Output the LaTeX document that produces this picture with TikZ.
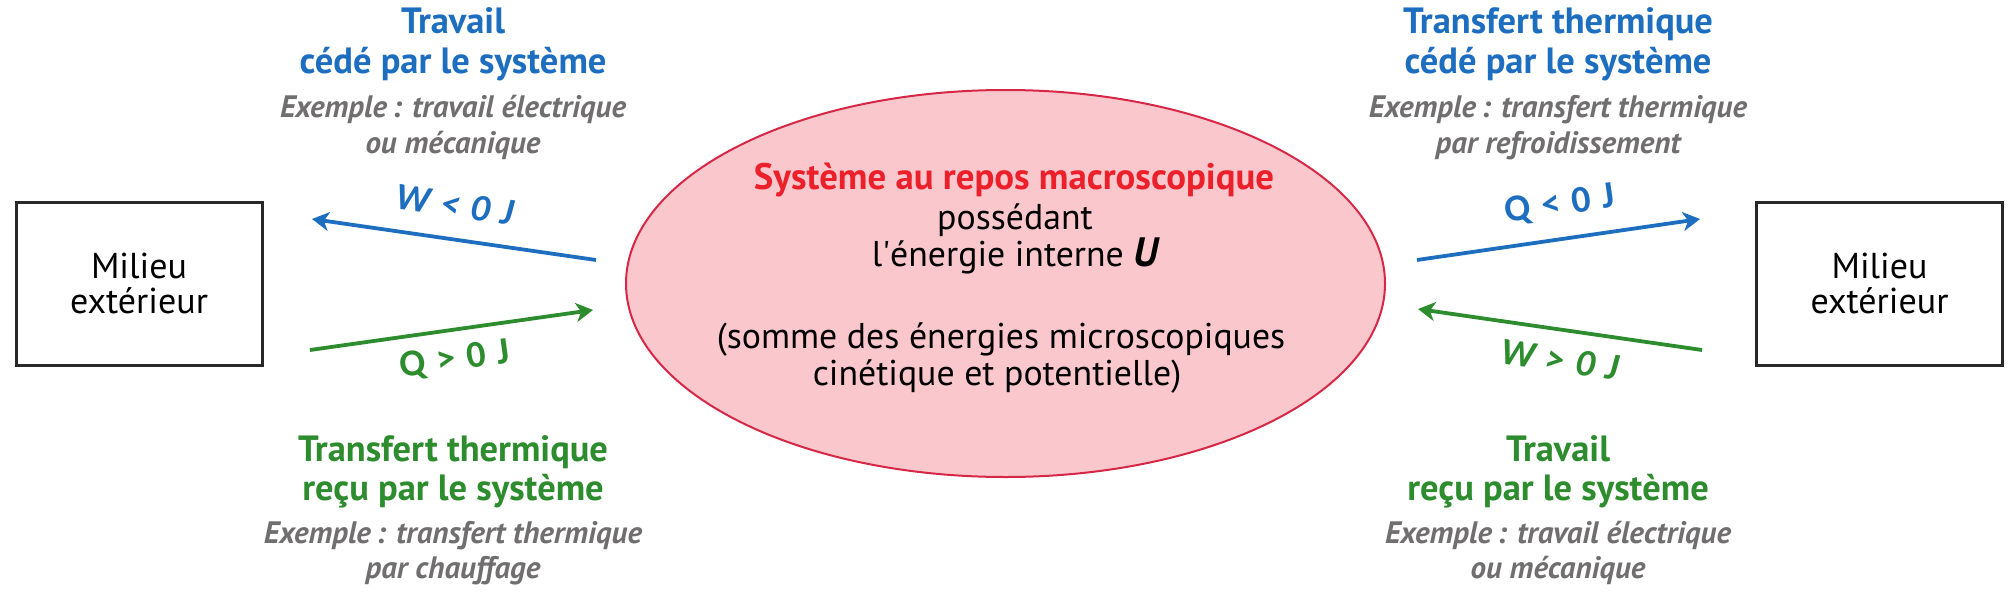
\documentclass[tikz,border=0pt]{standalone}
\usepackage{fontspec}
\setmainfont{PT Sans}
\newfontfamily\lblfont{Carlito}
\usetikzlibrary{arrows.meta,shapes.geometric}
\definecolor{tblue}{RGB}{30,110,192}
\definecolor{tgreen}{RGB}{45,140,45}
\definecolor{tgray}{RGB}{112,110,110}
\definecolor{tred}{RGB}{236,32,42}
\definecolor{epink}{RGB}{250,199,205}
\definecolor{eborder}{RGB}{214,40,70}
\definecolor{boxline}{RGB}{40,40,40}
\newcommand{\straightapos}{{\XeTeXglyph\the\XeTeXcharglyph"0027\relax}}
\newcommand{\lsp}{\hspace{0.3em}}
\begin{document}
\begin{tikzpicture}[x=1pt,y=1pt,
  ttl/.style={anchor=base,inner sep=0pt,font=\bfseries\fontsize{36.5}{40}\selectfont},
  expl/.style={anchor=base,inner sep=0pt,text=tgray,font=\bfseries\itshape\fontsize{31}{36}\selectfont},
  body/.style={anchor=base,inner sep=0pt,font=\fontsize{35.8}{40}\selectfont},
  lbl/.style={inner sep=0pt,font=\lblfont\bfseries\fontsize{38}{40}\selectfont},
  lbli/.style={inner sep=0pt,font=\lblfont\bfseries\itshape\fontsize{38}{40}\selectfont},
  arr/.style={line width=3.8pt,-{Stealth[length=17pt,width=19pt,inset=5pt]}},
  milieu/.style={draw=boxline,line width=3pt,minimum width=246pt,minimum height=163pt,inner sep=0pt,align=center,font=\fontsize{36}{35}\selectfont}
]
\useasboundingbox (0,0) rectangle (2009,-592);

% outside boxes
\node[milieu] (boxL) at (139,-283.5) {Milieu\\extérieur};
\node[milieu] (boxR) at (1879.5,-283.5) {Milieu\\extérieur};

% system ellipse
\node[ellipse,draw=eborder,fill=epink,line width=2pt,minimum width=759pt,minimum height=387pt,inner sep=0pt] (sys) at (1005.5,-283.5) {};
\node[body,text=tred,font=\bfseries\fontsize{36.8}{40}\selectfont] (s1) at (1014,-189) {Système au repos macroscopique};
\node[body] (s2) at (1015,-229) {possédant};
\node[body] (s3) at (1015,-266) {l\straightapos énergie interne {\bfseries\itshape\fontsize{41}{42}\selectfont U}};
\node[body] (s4) at (1001,-348) {(somme des énergies microscopiques};
\node[body] (s5) at (997,-385) {cinétique et potentielle)};

% top left
\node[ttl,text=tblue] (tl1) at (453,-33) {Travail};
\node[ttl,text=tblue] (tl2) at (453,-73) {cédé par le système};
\node[expl] (tl3) at (453,-117) {Exemple\,: travail électrique};
\node[expl] (tl4) at (453,-153) {ou mécanique};

% top right
\node[ttl,text=tblue] (tr1) at (1558,-33) {Transfert thermique};
\node[ttl,text=tblue] (tr2) at (1558,-73) {cédé par le système};
\node[expl] (tr3) at (1558,-117) {Exemple\,: transfert thermique};
\node[expl] (tr4) at (1558,-153) {par refroidissement};

% bottom left
\node[ttl,text=tgreen] (bl1) at (453,-461) {Transfert thermique};
\node[ttl,text=tgreen] (bl2) at (453,-500) {reçu par le système};
\node[expl] (bl3) at (453,-543) {Exemple\,: transfert thermique};
\node[expl] (bl4) at (453,-578) {par chauffage};

% bottom right
\node[ttl,text=tgreen] (br1) at (1558,-461) {Travail};
\node[ttl,text=tgreen] (br2) at (1558,-500) {reçu par le système};
\node[expl] (br3) at (1558,-543) {Exemple\,: travail électrique};
\node[expl] (br4) at (1558,-578) {ou mécanique};

% arrows
\coordinate (wLs) at (596,-260);
\coordinate (wLe) at (312,-219);
\coordinate (qLs) at (310,-350);
\coordinate (qLe) at (593,-310);
\coordinate (qRs) at (1417,-260);
\coordinate (qRe) at (1700,-219);
\coordinate (wRs) at (1702,-350);
\coordinate (wRe) at (1418,-309);
\draw[arr,tblue] (wLs) -- (wLe);
\draw[arr,tgreen] (qLs) -- (qLe);
\draw[arr,tblue] (qRs) -- (qRe);
\draw[arr,tgreen] (wRs) -- (wRe);

% labels
\node[lbli,text=tblue,rotate=-8.2] (lwl) at (455,-205) {W\lsp<\lsp0\lsp J};
\node[lbl,text=tgreen,rotate=8] (lql) at (455,-360) {Q\lsp>\lsp0\lsp J};
\node[lbl,text=tblue,rotate=8.2] (lqr) at (1560,-205) {Q\lsp<\lsp0\lsp J};
\node[lbli,text=tgreen,rotate=-8.2] (lwr) at (1560,-360) {W\lsp>\lsp0\lsp J};
\end{tikzpicture}
\end{document}
